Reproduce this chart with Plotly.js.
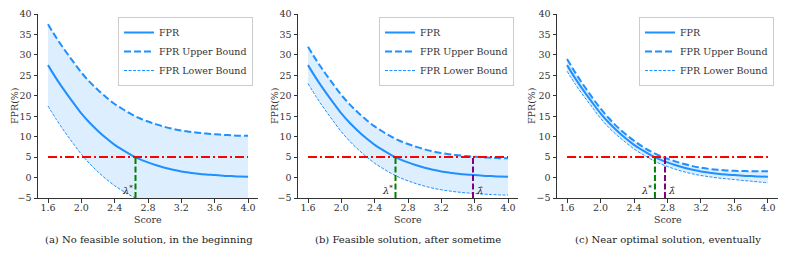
<!DOCTYPE html>
<html>
<head>
<meta charset="utf-8">
<script src="https://cdn.plot.ly/plotly-3.0.1.min.js"></script>
<style>html,body{margin:0;padding:0;background:#fff;}#chart{width:789px;height:257px;}</style>
</head>
<body>
<div id="chart"></div>
<script>
// ---- data ----
const score = [1.6,1.7,1.8,1.9,2.0,2.1,2.2,2.3,2.4,2.5,2.6,2.7,2.8,2.9,3.0,3.1,3.2,3.3,3.4,3.5,3.6,3.7,3.8,3.9,4.0];
const fpr = [27.5,24.2,21.2,18.4,15.7,13.4,11.4,9.6,8.0,6.7,5.5,4.5,3.7,3.0,2.4,1.9,1.5,1.2,0.95,0.75,0.6,0.45,0.35,0.25,0.2];
const upperA = [37.5,34.2,31.2,28.4,25.7,23.4,21.4,19.6,18.0,16.7,15.5,14.5,13.7,13.0,12.4,11.9,11.5,11.2,10.95,10.75,10.6,10.45,10.35,10.25,10.2];
const lowerA = [17.5,14.2,11.2,8.4,5.7,3.4,1.4,-0.4,-2.0,-3.3,-4.5,-5.5,-6.3,-7.0,-7.6,-8.1,-8.5,-8.8,-9.05,-9.25,-9.4,-9.55,-9.65,-9.75,-9.8];
const upperB = [32.0,28.7,25.7,22.9,20.2,17.9,15.9,14.1,12.5,11.2,10.0,9.0,8.2,7.5,6.9,6.4,6.0,5.7,5.45,5.25,5.1,4.95,4.85,4.75,4.7];
const lowerB = [23.0,19.7,16.7,13.9,11.2,8.9,6.9,5.1,3.5,2.2,1.0,0.0,-0.8,-1.5,-2.1,-2.6,-3.0,-3.3,-3.55,-3.75,-3.9,-4.05,-4.15,-4.25,-4.3];
const upperC = [29.0,25.6,22.5,19.6,16.9,14.5,12.4,10.6,9.0,7.6,6.4,5.4,4.6,3.9,3.3,2.8,2.4,2.1,1.9,1.75,1.65,1.6,1.55,1.55,1.55];
const lowerC = [26.0,22.8,19.9,17.2,14.5,12.2,10.3,8.6,7.0,5.7,4.5,3.5,2.7,2.0,1.4,0.9,0.5,0.2,-0.1,-0.3,-0.5,-0.7,-0.9,-1.1,-1.3];
const threshold = 5;
const thresholdX = [1.6, 4.0];
const lambdaStar = [2.65, 2.65, 2.65];
const lambdaHat = [null, 3.58, 2.77];
const captions = ["(a) No feasible solution, in the beginning", "(b) Feasible solution, after sometime", "(c) Near optimal solution, eventually"];
const xTicks = [1.6,2.0,2.4,2.8,3.2,3.6,4.0];
const yTicks = [-5,0,5,10,15,20,25,30,35,40];
const uppers = [upperA, upperB, upperC];
const lowers = [lowerA, lowerB, lowerC];

// ---- layout geometry ----
const W = 789, H = 257;
const xDom = [[38,258],[298,518],[557,778]];
const yBot = 198, yTop = 14;
const legBox = [[253,17],[514,17],[774,17]];
const capX = [149, 408, 668];
const yTitleX = [14, 274, 531];
const FONT = "DejaVu Serif";
const BLUE = "#1E90FF";

const traces = [];
const layout = {
  width: W, height: H,
  margin: {l:0, r:0, t:0, b:0},
  paper_bgcolor: "#fff", plot_bgcolor: "#fff",
  font: {family: FONT, size: 9.5, color: "#333"},
  showlegend: true,
  annotations: []
};

for (let p = 0; p < 3; p++) {
  const sfx = p === 0 ? "" : String(p+1);
  const xa = "x" + sfx, ya = "y" + sfx;
  const leg = "legend" + sfx;
  // fill band
  traces.push({x: score, y: uppers[p], xaxis: xa, yaxis: ya, mode: "lines", line: {width: 0, color: "rgba(0,0,0,0)", shape: "spline"}, showlegend: false, hoverinfo: "skip", legend: leg});
  traces.push({x: score, y: lowers[p], xaxis: xa, yaxis: ya, mode: "lines", line: {width: 0, color: "rgba(0,0,0,0)", shape: "spline"}, fill: "tonexty", fillcolor: "rgba(30,144,255,0.15)", showlegend: false, hoverinfo: "skip", legend: leg});
  // lines
  traces.push({x: score, y: fpr, xaxis: xa, yaxis: ya, mode: "lines", name: "FPR", line: {color: BLUE, width: 2, shape: "spline"}, legend: leg});
  traces.push({x: score, y: uppers[p], xaxis: xa, yaxis: ya, mode: "lines", name: "FPR Upper Bound", line: {color: BLUE, width: 2, dash: "7px,3px", shape: "spline"}, legend: leg});
  traces.push({x: score, y: lowers[p], xaxis: xa, yaxis: ya, mode: "lines", name: "FPR Lower Bound", line: {color: BLUE, width: 1, dash: "3px,1.5px", shape: "spline"}, legend: leg});
  // threshold
  traces.push({x: thresholdX, y: [threshold, threshold], xaxis: xa, yaxis: ya, mode: "lines", line: {color: "#FF0000", width: 2, dash: "9px,3px,2px,3px"}, showlegend: false, hoverinfo: "skip"});
  // lambda star
  traces.push({x: [lambdaStar[p], lambdaStar[p]], y: [-5, threshold], xaxis: xa, yaxis: ya, mode: "lines", line: {color: "#008000", width: 2, dash: "6px,2.5px"}, showlegend: false, hoverinfo: "skip"});
  layout.annotations.push({xref: xa, yref: ya, x: lambdaStar[p], y: -5, text: "<i>λ</i><sup>*</sup>", showarrow: false, xanchor: "right", yanchor: "bottom", xshift: -1, yshift: 0, font: {family: FONT, size: 10, color: "#222"}});
  if (lambdaHat[p] !== null) {
    traces.push({x: [lambdaHat[p], lambdaHat[p]], y: [-5, threshold], xaxis: xa, yaxis: ya, mode: "lines", line: {color: "#800080", width: 2, dash: "6px,2.5px"}, showlegend: false, hoverinfo: "skip"});
    layout.annotations.push({xref: xa, yref: ya, x: lambdaHat[p], y: -5, text: "<i>λ\u0302</i>", showarrow: false, xanchor: "left", yanchor: "bottom", xshift: 1, yshift: 0, font: {family: FONT, size: 10, color: "#222"}});
  }
  // axes
  layout["xaxis" + sfx] = {
    domain: [xDom[p][0]/W, xDom[p][1]/W], anchor: ya, range: [1.48, 4.12],
    tickvals: xTicks, ticktext: xTicks.map(v => v.toFixed(1)),
    ticks: "outside", ticklen: 3.5, tickwidth: 1, tickcolor: "#333",
    ticklabelstandoff: -3,
    showline: true, linecolor: "#333", linewidth: 1, showgrid: false, zeroline: false,
    tickfont: {family: FONT, size: 9.5, color: "#333"}
  };
  layout["yaxis" + sfx] = {
    domain: [(H-yBot)/H, (H-yTop)/H], anchor: xa, range: [-5, 40],
    tickvals: yTicks,
    ticks: "outside", ticklen: 3.5, tickwidth: 1, tickcolor: "#333",
    showline: true, linecolor: "#333", linewidth: 1, showgrid: false, zeroline: false,
    tickfont: {family: FONT, size: 9.5, color: "#333"}
  };
  layout.annotations.push({xref: "paper", yref: "paper", x: yTitleX[p]/W, y: (H-(yTop+yBot)/2)/H, text: "FPR(%)", textangle: -90, showarrow: false, xanchor: "center", yanchor: "middle", font: {family: FONT, size: 9.5, color: "#333"}});
  layout.annotations.push({xref: "paper", yref: "paper", x: (xDom[p][0]+xDom[p][1])/2/W, y: (H-219)/H, text: "Score", showarrow: false, xanchor: "center", yanchor: "middle", font: {family: FONT, size: 9.5, color: "#333"}});
  layout[leg] = {
    x: legBox[p][0]/W, y: (H-legBox[p][1])/H, xanchor: "right", yanchor: "top",
    xref: "paper", yref: "paper", traceorder: "normal",
    bgcolor: "#fff", bordercolor: "#ccc", borderwidth: 1,
    font: {family: FONT, size: 9.5, color: "#333"},
    tracegroupgap: 0, itemwidth: 30
  };
  layout.annotations.push({xref: "paper", yref: "paper", x: capX[p]/W, y: (H-239)/H, text: captions[p], showarrow: false, xanchor: "center", yanchor: "middle", font: {family: FONT, size: 10, color: "#222"}});
}

Plotly.newPlot("chart", traces, layout, {displayModeBar: false, staticPlot: true});
</script>
</body>
</html>
